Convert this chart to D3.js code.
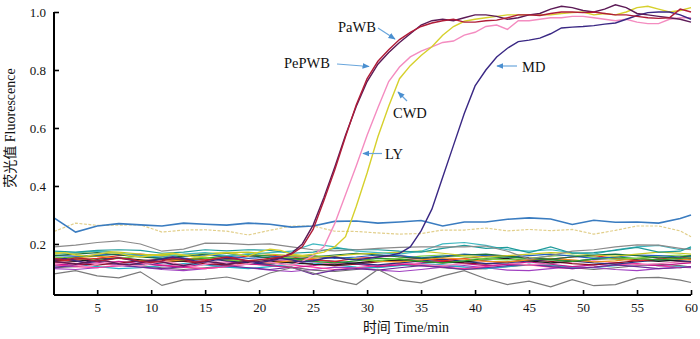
<!DOCTYPE html>
<html><head><meta charset="utf-8">
<script src="https://cdn.jsdelivr.net/npm/d3@7/dist/d3.min.js"></script>
<style>
html,body{margin:0;padding:0;background:#fff;}
svg{display:block;}
text{font-family:"Liberation Serif","Times New Roman","Noto Sans CJK SC",serif;fill:#111;}
</style></head>
<body>
<svg id="chart" width="700" height="339"></svg>
<script>
// ---------- data ----------
const minutes = [1,2,3,4,5,6,7,8,9,10,11,12,13,14,15,16,17,18,19,20,21,22,23,24,25,26,27,28,29,30,
  31,32,33,34,35,36,37,38,39,40,41,42,43,44,45,46,47,48,49,50,51,52,53,54,55,56,57,58,59,60];
const bgMinutes = [1,3,5,7,9,11,13,15,17,19,21,23,25,27,29,31,33,35,37,39,41,43,45,47,49,51,53,55,57,59,60];

const xTicks = [5,10,15,20,25,30,35,40,45,50,55,60];
const yTicks = [0.2,0.4,0.6,0.8,1.0];
const yTickLabels = ["0.2","0.4","0.6","0.8","1.0"];

// amplification curves (per minute)
const PaWB = [0.150,0.145,0.152,0.148,0.140,0.145,0.152,0.148,0.140,0.136,0.142,0.150,0.146,0.138,0.142,0.150,0.155,0.148,0.142,0.146,0.150,0.155,
  0.165,0.190,0.250,0.350,0.455,0.570,0.680,0.770,0.830,0.870,0.905,0.930,0.950,0.962,0.970,0.975,0.965,0.965,
  0.970,0.972,0.980,0.990,0.990,0.988,0.995,1.000,1.000,0.998,1.000,0.995,0.990,0.990,0.985,0.980,0.978,0.980,1.010,1.000];
const PePWB = [0.140,0.135,0.130,0.138,0.145,0.140,0.132,0.128,0.135,0.142,0.138,0.130,0.126,0.132,0.140,0.136,0.130,0.135,0.142,0.140,0.145,0.152,
  0.168,0.200,0.265,0.360,0.465,0.575,0.675,0.760,0.820,0.860,0.895,0.925,0.955,0.970,0.975,0.970,0.980,0.990,
  0.990,0.985,0.975,0.980,0.990,0.995,1.010,1.020,1.015,1.005,1.000,1.010,1.025,1.015,0.995,0.990,0.985,0.980,0.975,0.965];
const CWD = [0.165,0.170,0.162,0.158,0.165,0.170,0.168,0.160,0.155,0.160,0.165,0.168,0.162,0.155,0.158,0.165,0.170,0.165,0.158,0.172,0.182,0.178,0.165,0.160,0.165,
  0.172,0.190,0.225,0.330,0.445,0.570,0.675,0.770,0.815,0.850,0.880,0.920,0.950,0.968,0.975,
  0.980,0.985,0.990,0.990,0.990,0.990,0.990,0.995,0.998,1.000,0.990,0.995,0.990,1.000,1.015,1.020,1.010,1.000,1.005,1.015];
const LY = [0.130,0.135,0.128,0.122,0.130,0.138,0.135,0.128,0.125,0.132,0.140,0.135,0.128,0.122,0.130,0.138,0.135,0.128,0.132,0.140,0.138,0.130,0.128,0.140,
  0.160,0.190,0.270,0.370,0.470,0.575,0.670,0.760,0.810,0.845,0.865,0.880,0.895,0.900,0.920,0.930,
  0.950,0.955,0.940,0.970,0.970,0.975,0.980,0.980,0.985,0.985,0.980,0.975,0.970,0.975,0.965,0.960,0.960,0.975,0.980,0.980];
const MD = [0.145,0.150,0.142,0.135,0.140,0.148,0.152,0.145,0.138,0.142,0.148,0.155,0.150,0.142,0.138,0.145,0.150,0.148,0.140,0.135,0.142,0.150,0.145,0.138,0.142,0.150,0.155,0.148,0.145,0.150,
  0.155,0.160,0.168,0.190,0.245,0.320,0.430,0.540,0.650,0.745,0.800,0.845,0.875,0.898,0.903,0.910,0.925,0.945,0.948,0.950,
  0.953,0.958,0.962,0.975,0.988,0.998,1.000,1.000,0.990,0.975];

// negative / background curves (every 2 minutes)
const bgBlue = [0.290,0.241,0.262,0.270,0.266,0.262,0.272,0.268,0.265,0.272,0.268,0.258,0.262,0.278,0.279,0.272,0.276,0.281,0.262,0.276,0.276,0.285,0.290,0.286,0.267,0.282,0.275,0.276,0.272,0.288,0.300];
const bgTan = [0.243,0.272,0.264,0.265,0.266,0.241,0.248,0.249,0.244,0.231,0.247,0.262,0.262,0.244,0.243,0.238,0.234,0.236,0.248,0.248,0.255,0.245,0.250,0.246,0.250,0.234,0.247,0.262,0.262,0.245,0.225];
const bgGrayHi = [0.190,0.196,0.205,0.211,0.200,0.175,0.182,0.203,0.202,0.198,0.200,0.190,0.180,0.176,0.180,0.185,0.188,0.190,0.190,0.190,0.193,0.175,0.148,0.160,0.175,0.180,0.190,0.197,0.196,0.185,0.180];
const bgGrayLo = [0.097,0.108,0.090,0.083,0.104,0.057,0.076,0.078,0.086,0.070,0.100,0.118,0.100,0.075,0.060,0.112,0.075,0.066,0.090,0.108,0.080,0.060,0.072,0.052,0.077,0.056,0.060,0.083,0.085,0.075,0.067];
const bgTeal1 = [0.175,0.172,0.178,0.180,0.178,0.168,0.172,0.180,0.176,0.180,0.178,0.168,0.172,0.185,0.180,0.180,0.175,0.172,0.185,0.195,0.185,0.188,0.170,0.190,0.168,0.170,0.178,0.188,0.172,0.175,0.190];
const bgTeal2 = [0.165,0.170,0.175,0.168,0.160,0.155,0.165,0.170,0.160,0.165,0.170,0.175,0.200,0.190,0.175,0.170,0.165,0.175,0.200,0.205,0.195,0.180,0.175,0.180,0.170,0.165,0.180,0.190,0.195,0.180,0.185];
const bgGreen = [0.150,0.155,0.160,0.165,0.158,0.150,0.145,0.150,0.160,0.165,0.158,0.150,0.140,0.135,0.142,0.150,0.148,0.140,0.135,0.142,0.150,0.155,0.150,0.145,0.140,0.148,0.155,0.150,0.145,0.150,0.152];
const bgRed = [0.140,0.145,0.150,0.160,0.165,0.158,0.150,0.145,0.150,0.158,0.162,0.155,0.145,0.140,0.150,0.155,0.160,0.150,0.142,0.150,0.158,0.160,0.152,0.148,0.155,0.160,0.150,0.142,0.148,0.155,0.150];
const bgMagenta = [0.130,0.128,0.135,0.140,0.132,0.125,0.120,0.130,0.138,0.132,0.125,0.118,0.125,0.135,0.130,0.122,0.128,0.135,0.140,0.132,0.125,0.130,0.138,0.130,0.122,0.128,0.135,0.130,0.125,0.132,0.135];
const bgBlack = [0.145,0.140,0.148,0.152,0.145,0.138,0.142,0.150,0.145,0.138,0.140,0.135,0.130,0.128,0.135,0.142,0.145,0.140,0.135,0.138,0.145,0.150,0.142,0.135,0.140,0.148,0.150,0.145,0.140,0.145,0.148];
const bgBlue2 = [0.160,0.158,0.162,0.165,0.160,0.150,0.155,0.162,0.158,0.150,0.155,0.160,0.158,0.150,0.155,0.162,0.160,0.152,0.158,0.165,0.160,0.155,0.160,0.165,0.158,0.150,0.155,0.162,0.160,0.155,0.158];
const bgPurple = [0.120,0.125,0.132,0.128,0.120,0.115,0.122,0.130,0.125,0.118,0.112,0.120,0.095,0.110,0.115,0.110,0.118,0.125,0.120,0.112,0.118,0.125,0.130,0.122,0.115,0.120,0.128,0.122,0.115,0.118,0.122];
const bgPink = [0.135,0.140,0.132,0.125,0.130,0.138,0.142,0.135,0.128,0.132,0.140,0.145,0.138,0.130,0.135,0.142,0.138,0.130,0.125,0.132,0.140,0.135,0.128,0.132,0.138,0.142,0.135,0.128,0.132,0.138,0.140];
const bgOlive = [0.170,0.168,0.175,0.172,0.165,0.160,0.162,0.168,0.170,0.172,0.165,0.160,0.155,0.158,0.165,0.168,0.172,0.175,0.168,0.160,0.155,0.160,0.165,0.170,0.168,0.162,0.158,0.165,0.172,0.168,0.165];
const bgLime = [0.155,0.150,0.145,0.150,0.158,0.165,0.160,0.152,0.145,0.140,0.148,0.155,0.160,0.155,0.148,0.142,0.150,0.158,0.162,0.155,0.148,0.145,0.150,0.158,0.162,0.155,0.148,0.150,0.158,0.162,0.158];
const bgOrange = [0.148,0.152,0.158,0.150,0.142,0.138,0.145,0.152,0.148,0.140,0.135,0.142,0.150,0.155,0.148,0.140,0.138,0.145,0.152,0.148,0.140,0.138,0.145,0.150,0.145,0.138,0.142,0.150,0.155,0.148,0.145];
const bgDarkRed = [0.138,0.132,0.128,0.135,0.142,0.148,0.140,0.132,0.128,0.135,0.142,0.138,0.130,0.125,0.130,0.138,0.145,0.150,0.142,0.135,0.130,0.138,0.145,0.140,0.132,0.128,0.135,0.142,0.148,0.140,0.138];
const bgCyan = [0.125,0.130,0.122,0.115,0.118,0.125,0.132,0.128,0.120,0.115,0.122,0.130,0.135,0.128,0.120,0.118,0.125,0.132,0.128,0.120,0.115,0.122,0.130,0.128,0.120,0.118,0.125,0.130,0.125,0.120,0.122];
const bgNavy = [0.142,0.148,0.140,0.132,0.128,0.135,0.145,0.150,0.142,0.135,0.130,0.138,0.145,0.140,0.132,0.128,0.135,0.142,0.148,0.140,0.132,0.135,0.142,0.148,0.142,0.135,0.130,0.138,0.145,0.142,0.140];
const bgViolet = [0.115,0.112,0.118,0.125,0.120,0.112,0.108,0.115,0.122,0.118,0.110,0.105,0.112,0.120,0.118,0.110,0.105,0.112,0.120,0.125,0.118,0.110,0.108,0.115,0.122,0.118,0.112,0.108,0.115,0.120,0.118];
const bgDarkGreen = [0.160,0.165,0.170,0.162,0.155,0.150,0.158,0.165,0.168,0.160,0.152,0.148,0.155,0.162,0.168,0.162,0.155,0.150,0.155,0.162,0.165,0.158,0.150,0.148,0.155,0.162,0.165,0.160,0.152,0.155,0.160];
const bgHotPink = [0.128,0.122,0.118,0.125,0.132,0.128,0.120,0.115,0.122,0.130,0.135,0.128,0.120,0.112,0.118,0.125,0.132,0.128,0.120,0.115,0.122,0.130,0.128,0.120,0.115,0.120,0.128,0.132,0.125,0.118,0.122];
const bgGrayMid = [0.118,0.122,0.128,0.132,0.125,0.118,0.112,0.118,0.125,0.130,0.128,0.120,0.110,0.105,0.112,0.120,0.128,0.125,0.118,0.112,0.115,0.122,0.128,0.125,0.118,0.112,0.118,0.125,0.130,0.125,0.120];

const labels = ["PaWB","PePWB","CWD","LY","MD"];

// ---------- drawing ----------
const svg = d3.select("#chart");
const x = d3.scaleLinear().domain([1, 60]).range([54, 691]);
const y = d3.scaleLinear().domain([0.024, 1.0]).range([295, 12]);

const bgSeries = [
  {v: bgGrayMid, c: "#707070"}, {v: bgViolet, c: "#a040c0"}, {v: bgCyan, c: "#20b0c8"},
  {v: bgHotPink, c: "#ff3c9c"}, {v: bgPurple, c: "#6a2c9a"}, {v: bgMagenta, c: "#c8158c"},
  {v: bgPink, c: "#f07ab8"}, {v: bgDarkRed, c: "#8b1020"}, {v: bgNavy, c: "#283080"},
  {v: bgBlack, c: "#1a1a1a"}, {v: bgRed, c: "#e0282a"}, {v: bgOrange, c: "#f0901e"},
  {v: bgGreen, c: "#2ca02c"}, {v: bgLime, c: "#7ccf40"}, {v: bgBlue2, c: "#2060c0"},
  {v: bgDarkGreen, c: "#1a7040"}, {v: bgOlive, c: "#c8c820"}, {v: bgTeal2, c: "#3fb8c0"},
  {v: bgTeal1, c: "#1f9a9a"}, {v: bgGrayLo, c: "#7a7a7a"}, {v: bgGrayHi, c: "#8a8a8a"}
];

const bgLine = d3.line().x((d, i) => x(bgMinutes[i])).y(d => y(d));
const mainLine = d3.line().x((d, i) => x(minutes[i])).y(d => y(d));

const gBg = svg.append("g");
bgSeries.forEach(s => {
  gBg.append("path").attr("d", bgLine(s.v)).attr("fill", "none")
    .attr("stroke", s.c).attr("stroke-width", 1.2);
});
gBg.append("path").attr("d", bgLine(bgTan)).attr("fill", "none")
  .attr("stroke", "#e2cf8c").attr("stroke-width", 1.2).attr("stroke-dasharray", "3,1.5");
gBg.append("path").attr("d", bgLine(bgBlue)).attr("fill", "none")
  .attr("stroke", "#3a7cc0").attr("stroke-width", 1.6);

const mainSeries = [
  {v: LY, c: "#f48cc0"}, {v: CWD, c: "#d6d02c"}, {v: MD, c: "#3a2884"},
  {v: PePWB, c: "#5c1a56"}, {v: PaWB, c: "#b01c38"}
];
mainSeries.forEach(s => {
  svg.append("path").attr("d", mainLine(s.v)).attr("fill", "none")
    .attr("stroke", s.c).attr("stroke-width", 1.4);
});

// axes
const xAxis = d3.axisBottom(x).tickValues(xTicks).tickSize(-5).tickPadding(8).tickFormat(d3.format("d"));
const yAxis = d3.axisLeft(y).tickValues(yTicks).tickSize(-5).tickPadding(8).tickFormat((d, i) => yTickLabels[i]);

const gx = svg.append("g").attr("transform", "translate(0,295)").call(xAxis);
const gy = svg.append("g").attr("transform", "translate(54,0)").call(yAxis);
[gx, gy].forEach(g => {
  g.select(".domain").attr("stroke", "#000").attr("stroke-width", 2);
  g.selectAll(".tick line").attr("stroke", "#000").attr("stroke-width", 1.6);
  g.selectAll(".tick text").attr("font-size", 13).attr("fill", "#111")
    .style("font-family", "'Liberation Serif', serif");
});
gx.select(".domain").attr("d", "M54,0H691");
gy.select(".domain").attr("d", "M0,295V12");

// axis titles
svg.append("text").attr("x", 406).attr("y", 332).attr("text-anchor", "middle")
  .attr("font-size", 14).text("时间 Time/min");
svg.append("text").attr("transform", "translate(15,128) rotate(-90)")
  .attr("text-anchor", "middle").attr("font-size", 14).text("荧光值 Fluorescence");

// annotations
const defs = svg.append("defs");
defs.append("marker").attr("id", "ah").attr("viewBox", "0 0 10 10").attr("refX", 9).attr("refY", 5)
  .attr("markerWidth", 6).attr("markerHeight", 6).attr("orient", "auto")
  .append("path").attr("d", "M0,1L10,5L0,9z").attr("fill", "#4a8fd0");

const ann = [
  {t: labels[0], tx: 338, ty: 31.5, a: [378, 28, 395, 39]},
  {t: labels[1], tx: 284, ty: 68, a: [337, 64, 369, 66.5]},
  {t: labels[2], tx: 393, ty: 118, a: [407, 101, 398, 92]},
  {t: labels[3], tx: 385, ty: 159, a: [382, 153.5, 363, 153.5]},
  {t: labels[4], tx: 522, ty: 71.5, a: [517, 66, 497, 66]}
];
ann.forEach(d => {
  svg.append("text").attr("x", d.tx).attr("y", d.ty).attr("font-size", 14.5).text(d.t);
  svg.append("line").attr("x1", d.a[0]).attr("y1", d.a[1]).attr("x2", d.a[2]).attr("y2", d.a[3])
    .attr("stroke", "#6aa6dc").attr("stroke-width", 1.2).attr("marker-end", "url(#ah)");
});
</script>
</body></html>
